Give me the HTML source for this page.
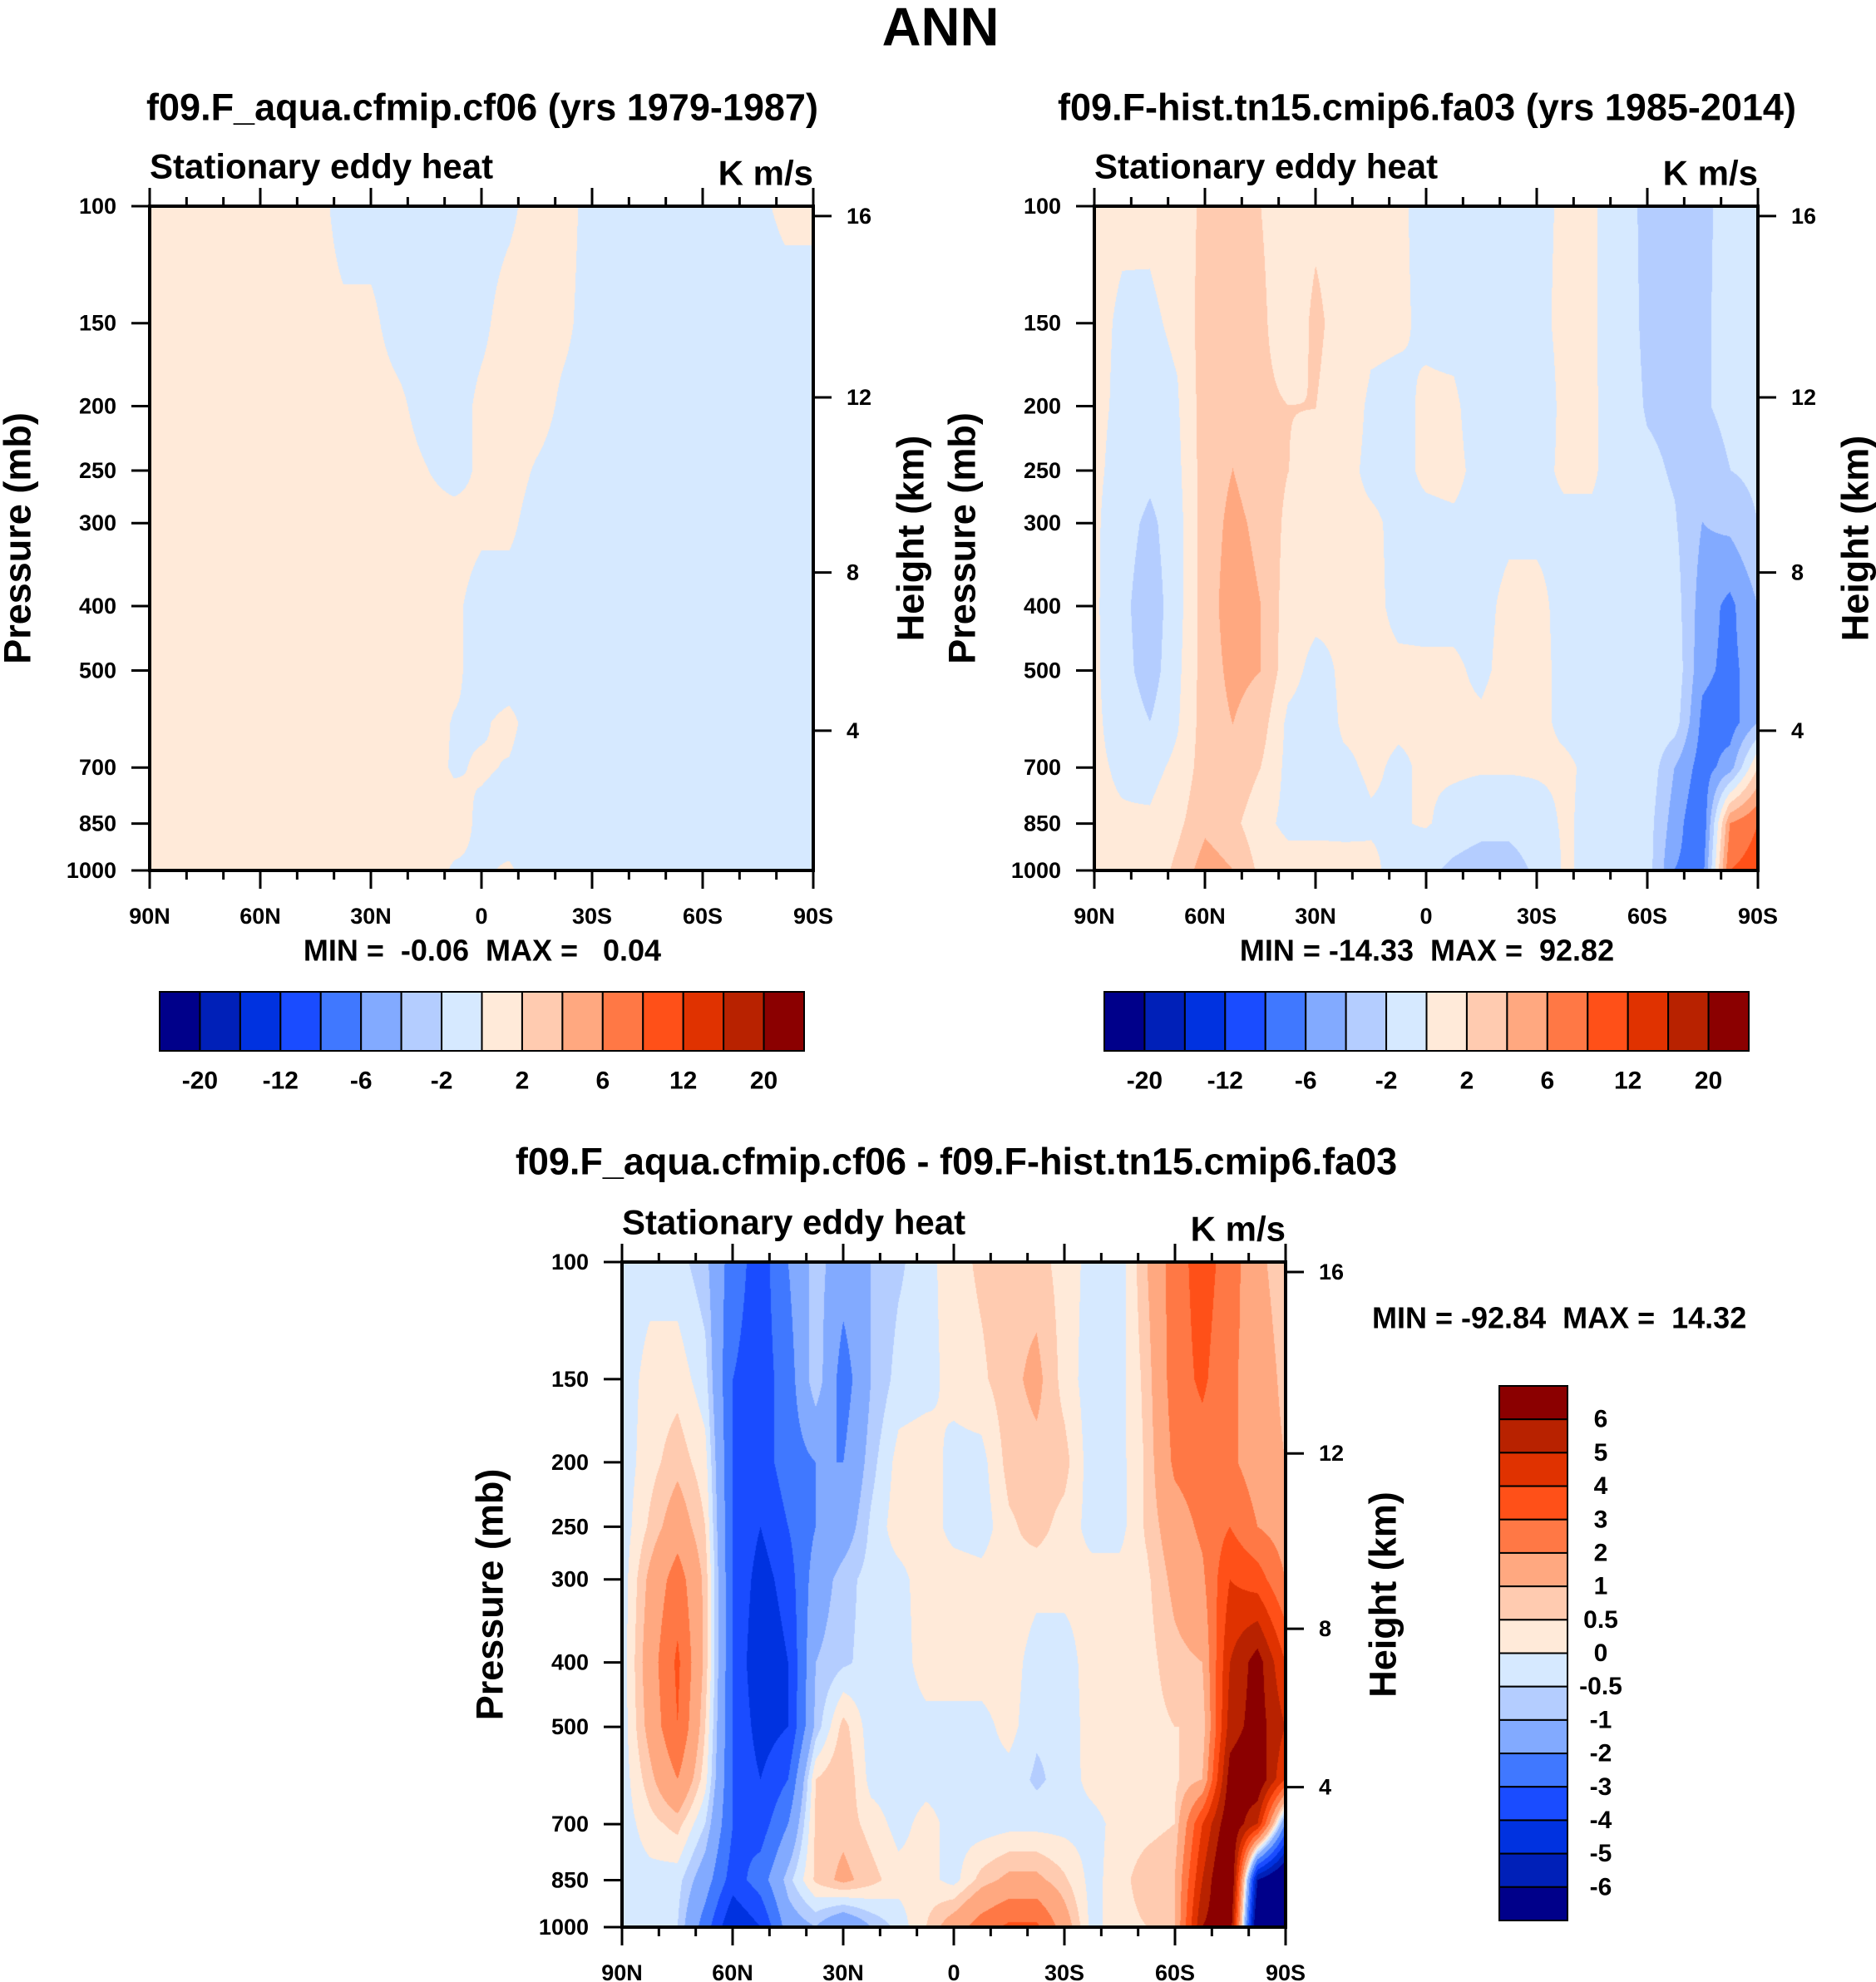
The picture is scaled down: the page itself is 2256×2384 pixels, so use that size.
<!DOCTYPE html>
<html><head><meta charset="utf-8">
<style>
html,body{margin:0;padding:0;background:#fff;}
#root{position:relative;width:2256px;height:2384px;overflow:hidden;background:#fff;}
canvas{position:absolute;}
svg{position:absolute;left:0;top:0;}
text{font-family:"Liberation Sans",Arial,sans-serif;font-weight:bold;fill:#000;}
</style></head>
<body>
<div id="root">
<canvas id="c1" width="798" height="799" style="left:180px;top:248px"></canvas>
<canvas id="c2" width="798" height="799" style="left:1316px;top:248px"></canvas>
<canvas id="c3" width="798" height="800" style="left:748px;top:1518px"></canvas>
<svg id="ov" width="2256" height="2384"></svg>
</div>
<script>
const lats=[90,82.5,75,67.5,60,52.5,45,37.5,30,22.5,15,7.5,0,-7.5,-15,-22.5,-30,-37.5,-45,-52.5,-60,-67.5,-75,-82.5,-90];
const plevs=[100,150,200,250,300,400,500,600,700,850,1000];
const fieldA=[
[0.02,0.02,0.02,0.02,0.02,0.02,0.02,-0.02,-0.02,-0.02,-0.02,-0.02,-0.02,-0.01,0.02,0.02,-0.02,-0.02,-0.02,-0.02,-0.02,-0.02,-0.01,0.01,0.01],
[0.02,0.02,0.02,0.02,0.02,0.02,0.02,0.01,0.01,-0.02,-0.02,-0.02,-0.01,0.02,0.02,0.01,-0.02,-0.02,-0.02,-0.02,-0.02,-0.02,-0.02,-0.02,-0.02],
[0.02,0.02,0.02,0.02,0.02,0.02,0.02,0.02,0.02,0.01,-0.02,-0.02,0.01,0.02,0.02,-0.01,-0.02,-0.02,-0.02,-0.02,-0.02,-0.02,-0.02,-0.02,-0.02],
[0.02,0.02,0.02,0.02,0.02,0.02,0.02,0.02,0.02,0.02,0.002,-0.02,0.01,0.02,-0.005,-0.02,-0.02,-0.02,-0.02,-0.02,-0.02,-0.02,-0.02,-0.02,-0.02],
[0.02,0.02,0.02,0.02,0.02,0.02,0.02,0.02,0.02,0.02,0.02,0.02,0.01,0.01,-0.02,-0.02,-0.02,-0.02,-0.02,-0.02,-0.02,-0.02,-0.02,-0.02,-0.02],
[0.02,0.02,0.02,0.02,0.02,0.02,0.02,0.02,0.02,0.02,0.02,0.01,-0.02,-0.02,-0.02,-0.02,-0.02,-0.02,-0.02,-0.02,-0.02,-0.02,-0.02,-0.02,-0.02],
[0.02,0.02,0.02,0.02,0.02,0.02,0.02,0.02,0.02,0.02,0.02,0.01,-0.02,-0.02,-0.02,-0.02,-0.02,-0.02,-0.02,-0.02,-0.02,-0.02,-0.02,-0.02,-0.02],
[0.02,0.02,0.02,0.02,0.02,0.02,0.02,0.02,0.02,0.02,0.02,-0.003,-0.005,0.01,-0.02,-0.02,-0.02,-0.02,-0.02,-0.02,-0.02,-0.02,-0.02,-0.02,-0.02],
[0.02,0.02,0.02,0.02,0.02,0.02,0.02,0.02,0.02,0.02,0.02,-0.005,0.005,-0.003,-0.02,-0.02,-0.02,-0.02,-0.02,-0.02,-0.02,-0.02,-0.02,-0.02,-0.02],
[0.02,0.02,0.02,0.02,0.02,0.02,0.02,0.02,0.02,0.02,0.02,0.02,-0.01,-0.02,-0.02,-0.02,-0.02,-0.02,-0.02,-0.02,-0.02,-0.02,-0.02,-0.02,-0.02],
[0.02,0.02,0.02,0.02,0.02,0.02,0.02,0.02,0.02,0.02,0.02,-0.005,-0.005,0.005,-0.02,-0.02,-0.02,-0.02,-0.02,-0.02,-0.02,-0.02,-0.02,-0.02,-0.02]
];
const fieldDiff=[
[-0.3,-0.2,-0.3,-0.8,-2.5,-3.5,-2,-0.7,-1.5,-1,-0.6,-0.2,0.3,0.6,0.8,0.7,0.3,-0.2,-0.3,1,2.5,3.5,2.5,1.2,0.6],
[-0.3,0.2,0.3,-0.3,-3,-3.5,-2.5,-0.5,-2.5,-1,-0.3,-0.2,0.2,0.4,0.8,1.2,0.3,-0.3,-0.2,0.7,2.5,3.2,2.2,1.5,0.8],
[-0.3,0.3,0.8,0.2,-3,-3.5,-2.5,-2,-2,-0.7,0.2,0.3,-0.2,-0.2,0.7,0.8,0.7,-0.3,-0.2,0.6,2.2,2.5,2.2,1.5,1],
[-0.3,0.6,1.5,0.5,-3,-4,-3,-2,-1.5,-0.4,0.3,0.3,-0.2,-0.3,0.4,0.7,0.3,-0.2,-0.2,0.6,1.5,2.2,3,2,1.5],
[-0.3,1.2,2.5,0.8,-3,-4.5,-3.5,-1.5,-0.7,-0.3,-0.2,0.3,0.3,0.2,0.4,0.2,0.2,0.2,0.2,0.4,1.2,1.8,4,3.5,2],
[-0.3,1.5,3.2,0.8,-3,-5,-4,-1,-0.6,-0.3,-0.3,0.3,0.3,0.3,0.3,-0.3,-0.3,0.3,0.3,0.3,0.8,1,5,6.5,4],
[-0.3,1.3,3.0,0.5,-3,-4.5,-4,-0.8,0.7,-0.3,-0.3,-0.2,-0.2,-0.2,0.2,-0.4,-0.4,0.3,0.3,0.3,0.5,0.5,5.5,6.5,5],
[-0.3,0.8,2.0,0.2,-3,-4,-3,0.5,1,-0.2,-0.3,-0.2,-0.2,-0.2,-0.2,-0.6,-0.3,0.2,0.3,0.3,0.4,1,6.5,7,4],
[-0.3,0.3,0.7,-0.5,-3,-3.5,-2,0.6,0.8,0.3,-0.2,0.2,-0.2,-0.3,-0.2,-0.2,-0.2,-0.2,0.2,0.3,0.5,4,7,5,-2],
[-0.3,-0.2,-0.3,-1.5,-3.5,-2.5,-0.7,0.6,1.2,0.7,0.2,0.2,-0.2,0.7,1.2,1.2,0.6,-0.2,0.3,0.8,1.0,5,8,-6,-8],
[-0.3,-0.3,-0.5,-2.5,-5,-4,-1.5,-1,-2,-1,-0.3,0.5,1.5,2.5,3.2,3.2,1.5,-0.2,0.3,0.5,1,6,7,-8,-9]
];
const levelsAB=[-20,-16,-12,-8,-6,-4,-2,0,2,4,6,8,12,16,20];
const levelsDiff=[-6,-5,-4,-3,-2,-1,-0.5,0,0.5,1,2,3,4,5,6];
const cbLabelsAB=['-20','-12','-6','-2','2','6','12','20'];
const cbLabelsDiff=['6','5','4','3','2','1','0.5','0','-0.5','-1','-2','-3','-4','-5','-6'];
const latTickLabels=['90N','60N','30N','0','30S','60S','90S'];
const pTicks=[100,150,200,250,300,400,500,700,850,1000];
const hTicks=[4,8,12,16];
const hTickP=[616,356,194,103.5];
const colors=['#00008A','#0020B8','#0032E0','#1A4CFF','#4078FF','#82AAFF','#B4CDFF','#D6E9FF','#FFEAD9','#FFCBB0','#FFA880','#FF7845','#FF5018','#E03200','#B82200','#8B0000'];

const fieldB=fieldA.map((row,j)=>row.map((v,i)=>v-fieldDiff[j][i]));
const logP=plevs.map(p=>Math.log10(p));
function hex(c){return [parseInt(c.substr(1,2),16),parseInt(c.substr(3,2),16),parseInt(c.substr(5,2),16)];}
const rgb=colors.map(hex);

function drawField(id,field,levels){
  const cv=document.getElementById(id);const W=cv.width,H=cv.height;
  const ctx=cv.getContext('2d');const img=ctx.createImageData(W,H);
  for(let py=0;py<H;py++){
    const lp=2+py/(H-1);
    let j=0;while(j<logP.length-2&&lp>logP[j+1])j++;
    const ty=Math.min(1,Math.max(0,(lp-logP[j])/(logP[j+1]-logP[j])));
    for(let px=0;px<W;px++){
      const fx=px/(W-1)*(lats.length-1);
      let i=Math.min(lats.length-2,Math.floor(fx));const tx=fx-i;
      const v=(1-ty)*((1-tx)*field[j][i]+tx*field[j][i+1])+ty*((1-tx)*field[j+1][i]+tx*field[j+1][i+1]);
      let k=0;while(k<levels.length&&v>=levels[k])k++;
      const c=rgb[k];const o=(py*W+px)*4;
      img.data[o]=c[0];img.data[o+1]=c[1];img.data[o+2]=c[2];img.data[o+3]=255;
    }
  }
  ctx.putImageData(img,0,0);
}
drawField('c1',fieldA,levelsAB);
drawField('c2',fieldB,levelsAB);
drawField('c3',fieldDiff,levelsDiff);

const NS='http://www.w3.org/2000/svg';
const ov=document.getElementById('ov');
function el(tag,attrs,parent){const e=document.createElementNS(NS,tag);for(const k in attrs)e.setAttribute(k,attrs[k]);(parent||ov).appendChild(e);return e;}
function txt(s,x,y,size,anchor,parent){const t=el('text',{x:x,y:y,'font-size':size,'text-anchor':anchor||'middle','dominant-baseline':'central'},parent);t.textContent=s;return t;}

function axes(x0,y0,W,H,pName){
  const g=el('g',{});
  
  
  const yOf=p=>y0+(Math.log10(p)-2)*H;
  const xOf=lat=>x0+(90-lat)/180*W;
  for(let lat=90;lat>=-90;lat-=10){
    const major=(lat%30===0);const L=major?22:11;const x=xOf(lat);
    el('line',{x1:x,y1:y0,x2:x,y2:y0-L,stroke:'#000','stroke-width':3},g);
    el('line',{x1:x,y1:y0+H,x2:x,y2:y0+H+L,stroke:'#000','stroke-width':3},g);
  }
  latTickLabels.forEach((s,k)=>{const t=txt(s,x0+k*W/6,y0+H+55,27,'middle',g);
    
    });
  pTicks.forEach(p=>{const y=yOf(p);
    el('line',{x1:x0,y1:y,x2:x0-22,y2:y,stroke:'#000','stroke-width':3},g);
    const t=txt(String(p),x0-40,y,27,'end',g);
    
    });
  hTicks.forEach((h,k)=>{const y=yOf(hTickP[k]);
    el('line',{x1:x0+W,y1:y,x2:x0+W+22,y2:y,stroke:'#000','stroke-width':3},g);
    const t=txt(String(h),x0+W+40,y,27,'start',g);
    
    });
  el('rect',{x:x0,y:y0,width:W,height:H,fill:'none',stroke:'#000','stroke-width':4},g);
  const t1=txt('Stationary eddy heat',x0,y0-48,42,'start',g);
  
  
  const t2=txt('K m/s',x0+W,y0-40,42,'end',g);
  
  
  const pl=txt('Pressure (mb)',0,0,45,'middle',g);pl.setAttribute('transform','translate('+(x0-159)+','+(y0+H/2)+') rotate(-90)');
  
  
  const hl=txt('Height (km)',0,0,45,'middle',g);hl.setAttribute('transform','translate('+(x0+W+117)+','+(y0+H/2)+') rotate(-90)');
  
  
}
axes(180,248,798,799,'panel-1');
axes(1316,248,798,799,'panel-2');
axes(748,1518,798,800,'panel-3');

function hbar(x0,y0,W,H,name){
  const g=el('g',{});
  
  
  const bw=W/colors.length;
  colors.forEach((c,k)=>{const r=el('rect',{x:x0+k*bw,y:y0,width:bw,height:H,fill:c,stroke:'#000','stroke-width':2},g);
    
    });
  cbLabelsAB.forEach((s,k)=>{const t=txt(s,x0+(1+2*k)*bw,y0+H+36,30,'middle',g);
    
    });
}
hbar(192,1193,775,71,'colorbar-panel-1');
hbar(1328,1193,775,71,'colorbar-panel-2');

function vbar(x0,y0,W,H){
  const g=el('g',{});
  
  
  const bh=H/colors.length;
  colors.slice().reverse().forEach((c,k)=>{const r=el('rect',{x:x0,y:y0+k*bh,width:W,height:bh,fill:c,stroke:'#000','stroke-width':2},g);
    
    });
  cbLabelsDiff.forEach((s,k)=>{const t=txt(s,x0+W+40,y0+(k+1)*bh,30,'middle',g);
    
    });
}
vbar(1803,1667,82,643);

function title(s,x,y,size,name){const t=txt(s,x,y,size,'middle');t.setAttribute('style','white-space:pre');
  
  return t;}
title('ANN',1131,32,65,'main-title');
title('f09.F_aqua.cfmip.cf06 (yrs 1979-1987)',580,129,45,'panel-1-title');
title('f09.F-hist.tn15.cmip6.fa03 (yrs 1985-2014)',1716,129,45,'panel-2-title');
title('f09.F_aqua.cfmip.cf06 - f09.F-hist.tn15.cmip6.fa03',1150,1397,45,'panel-3-title');
title('MIN =  -0.06  MAX =   0.04',580,1143,36,'panel-1-minmax');
title('MIN = -14.33  MAX =  92.82',1716,1143,36,'panel-2-minmax');
const mm=txt('MIN = -92.84  MAX =  14.32',1650,1585,36,'start');mm.setAttribute('style','white-space:pre');


</script>
</body></html>
